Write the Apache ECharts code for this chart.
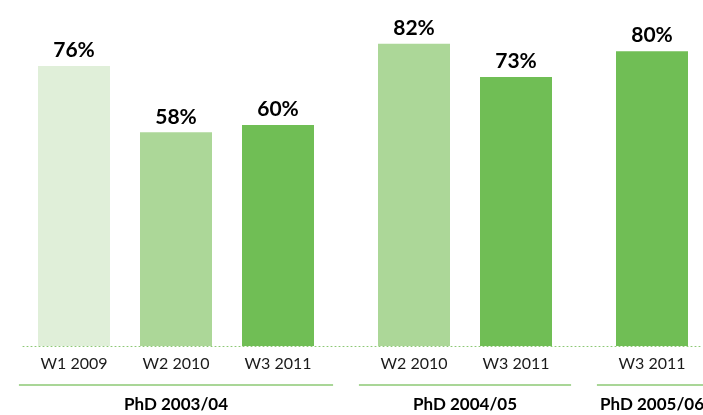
<!DOCTYPE html>
<html><head><meta charset="utf-8">
<script src="https://cdn.jsdelivr.net/npm/echarts@6/dist/echarts.min.js"></script>
<style>html,body{margin:0;padding:0;background:#fff}#c{width:703px;height:415px}</style>
</head><body><div id="c"></div>
<script>
const waveLabels = ['W1 2009','W2 2010','W3 2011','W2 2010','W3 2011','W3 2011'];
const values = [76, 58, 60, 82, 73, 80];
const cohorts = ['PhD 2003/04','PhD 2003/04','PhD 2003/04','PhD 2004/05','PhD 2004/05','PhD 2005/06'];
const waves = [1, 2, 3, 2, 3, 3];

const waveColors = {1:'#e0efd9', 2:'#acd798', 3:'#70be55'};
const lineGreen = '#8cc874';

// slot layout: bars 3 slots apart, cohorts separated by 4 slots
const slots = [];
let p = 1;
for (let i = 0; i < values.length; i++) {
  if (i > 0) p += (cohorts[i] !== cohorts[i-1]) ? 4 : 3;
  slots.push(p);
}
const nSlots = 20;
const cats = new Array(nSlots).fill('');
slots.forEach((s, i) => { cats[s] = waveLabels[i]; });

const barData = slots.map((s, i) => ({
  value: [s, values[i]],
  itemStyle: {color: waveColors[waves[i]]}
}));

const groups = [];
cohorts.forEach((c, i) => {
  const g = groups.find(x => x.name === c);
  if (g) g.end = slots[i]; else groups.push({name: c, start: slots[i], end: slots[i]});
});

const chart = echarts.init(document.getElementById('c'));
chart.setOption({
  animation: false,
  grid: {left: 23, right: 0, top: 0, bottom: 69},
  xAxis: {
    type: 'category', data: cats, boundaryGap: true,
    axisLine: {show: true, lineStyle: {color: lineGreen, type: [1, 3], width: 1}},
    axisTick: {show: false},
    axisLabel: {interval: 0, margin: 10, color: '#1a1a1a', fontSize: 16, fontFamily: 'Lato'}
  },
  yAxis: {type: 'value', min: 0, max: 93.9, show: false, splitLine: {show: false}},
  series: [
    {
      type: 'bar', data: barData, barWidth: 72,
      label: {show: true, position: 'top', distance: 5, formatter: p => p.value[1] + '%',
        color: '#000', fontSize: 21, fontWeight: 'bold', fontFamily: 'Lato'}
    },
    {
      type: 'custom', silent: true, clip: false,
      data: groups.map(g => [g.start, g.end]),
      renderItem: (params, api) => {
        const a = api.coord([api.value(0), 0]);
        const b = api.coord([api.value(1), 0]);
        const band = api.size([1, 0])[0];
        const x1 = a[0] - 1.62 * band;
        const x2 = Math.min(b[0] + 1.62 * band, params.coordSys.x + params.coordSys.width);
        const y = a[1];
        return {
          type: 'group',
          children: [
            {type: 'line', shape: {x1: x1, y1: y + 39, x2: x2, y2: y + 39},
              style: {stroke: lineGreen, lineWidth: 1.5}},
            {type: 'text', x: (a[0] + b[0]) / 2, y: y + 59,
              style: {text: groups[params.dataIndex].name, align: 'center', verticalAlign: 'middle',
                fill: '#000', font: 'bold 17px Lato'}}
          ]
        };
      }
    }
  ]
});
</script></body></html>
